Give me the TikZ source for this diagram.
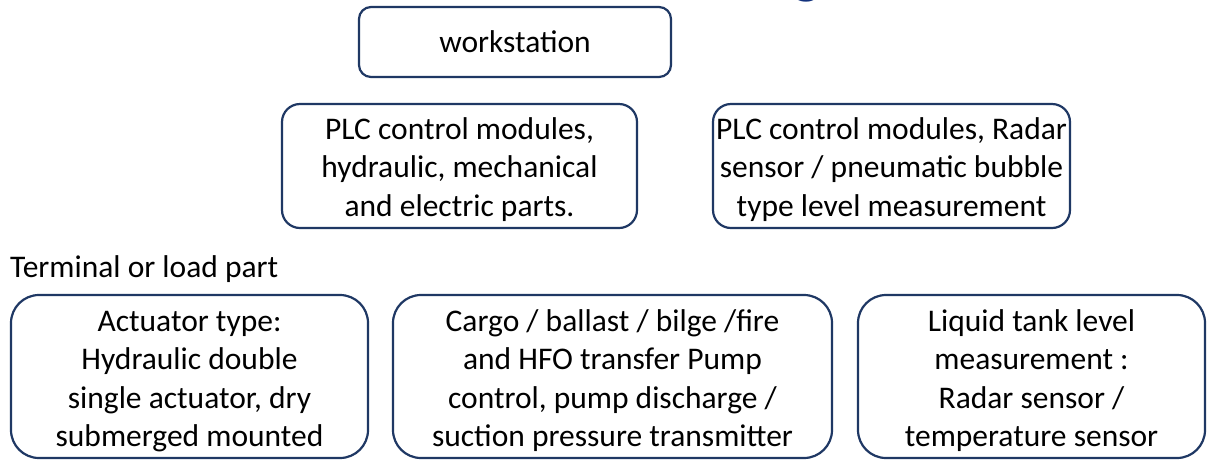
\documentclass[tikz,border=0pt]{standalone}
\usepackage{fontspec}
\setmainfont{Carlito}
\definecolor{boxline}{RGB}{31,56,100}
\definecolor{titleblue}{RGB}{18,50,125}
\begin{document}
\begin{tikzpicture}[x=1pt,y=-1pt,
  box/.style={draw=boxline, line width=2.2pt, rectangle, inner sep=0pt, align=center,
    font=\fontsize{31.5}{38.5}\selectfont, text=black},
  plain/.style={inner sep=0pt, font=\fontsize{31.5}{38.5}\selectfont, text=black}]
\useasboundingbox (0,0) rectangle (1210,459);
\clip (0,0) rectangle (1210,459);
\fill[white] (0,0) rectangle (1210,459);
% fragment of the title above the picture
\node[inner sep=0pt, anchor=base, text=titleblue, font=\fontsize{57}{60}\selectfont\bfseries] (title) at (807,-8) {g};
\node[box, rounded corners=12pt, minimum width=312pt, minimum height=70pt] (ws) at (515,42) {workstation};
\node[box, rounded corners=18pt, minimum width=355pt, minimum height=124pt] (plc1) at (459.5,166)
  {\rule{0pt}{28.5pt}PLC control modules,\\hydraulic, mechanical\\and electric parts.};
\node[box, rounded corners=18pt, minimum width=357pt, minimum height=124pt] (plc2) at (891.5,166)
  {\rule{0pt}{28.5pt}PLC control modules, Radar\\sensor / pneumatic bubble\\type level measurement};
\node[plain, anchor=base west] (term) at (10,277) {Terminal or load part};
\node[box, rounded corners=28pt, minimum width=357pt, minimum height=163pt] (ba) at (189.5,376.5)
  {\rule{0pt}{30pt}Actuator type:\\Hydraulic double\\single actuator, dry\\submerged mounted};
\node[box, rounded corners=28pt, minimum width=439pt, minimum height=163pt] (bb) at (612.5,376.5)
  {\rule{0pt}{30pt}Cargo / ballast / bilge /fire\\and HFO transfer Pump\\control, pump discharge /\\suction pressure transmitter};
\node[box, rounded corners=28pt, minimum width=347pt, minimum height=163pt] (bc) at (1031.5,376.5)
  {\rule{0pt}{30pt}Liquid tank level\\measurement :\\Radar sensor /\\temperature sensor};
\end{tikzpicture}
\end{document}
